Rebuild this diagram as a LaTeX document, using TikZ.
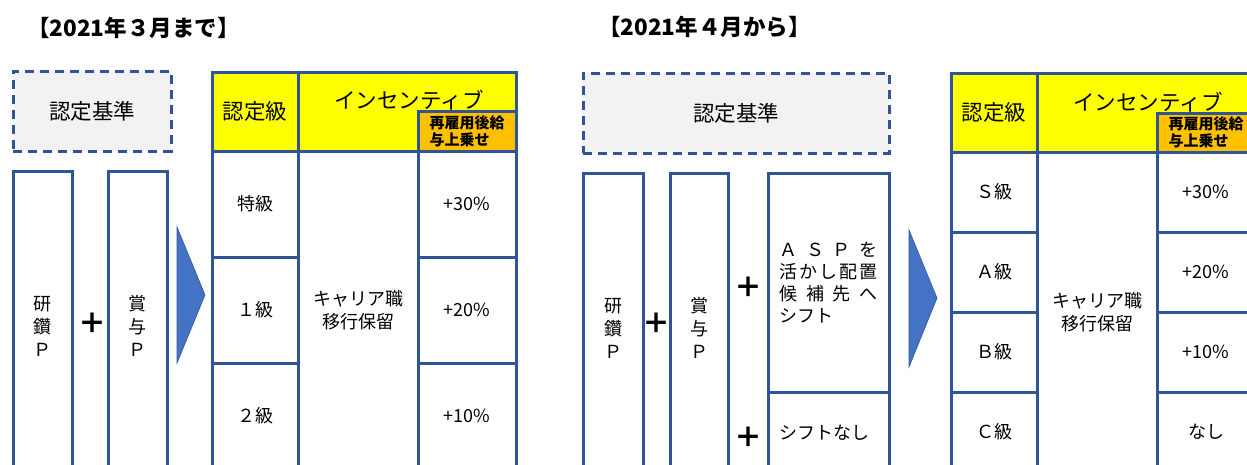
\documentclass[tikz,border=0pt]{standalone}
\usepackage{fontspec}
\setmainfont{Noto Sans CJK JP}
\definecolor{bord}{HTML}{2F5597}
\definecolor{arrowfill}{HTML}{4472C4}
\definecolor{hdryellow}{HTML}{FFFF00}
\definecolor{hdrorange}{HTML}{FFC000}
\definecolor{dashfill}{HTML}{F2F2F2}
\newcommand\fsz[2]{\fontsize{#1}{#2}\selectfont}
\tikzset{
 cell/.style={draw=bord, line width=3pt, inner sep=0pt, outer sep=0pt, anchor=north west, font=\fsz{18}{23}, align=center},
 hdr/.style={cell, fill=hdryellow, font=\fsz{21.5}{24}},
 subhdr/.style={cell, fill=hdrorange, font=\fsz{15}{17}\bfseries, align=left},
 dashbox/.style={cell, fill=dashfill, dash pattern=on 9pt off 6pt, font=\fsz{21.5}{24}},
 plus/.style={font=\fsz{28}{28}\bfseries, inner sep=0pt},
 txt/.style={inner sep=0pt, font=\fsz{21.5}{24}},
 title/.style={font=\fsz{22.5}{24}\bfseries, anchor=west, inner sep=0pt},
 tri/.style={fill=arrowfill, draw=bord, line width=0.6pt},
}
\begin{document}
\begin{tikzpicture}[x=1pt,y=-1pt]
\useasboundingbox (0,0) rectangle (1247,464);
\begin{scope}
\clip (0,0) rectangle (1247,464);
% ---------- left: until March 2021 ----------
\node[title] (titleL) at (27,28) {【2021年３月まで】};
\node[dashbox, minimum width=158pt, minimum height=80pt] (critL) at (13,71) {認定基準};
\node[cell, minimum width=59pt, minimum height=310pt] (kenL) at (13,171) {研\\鑽\\Ｐ};
\node[plus] (plusL) at (92,323) {＋};
\node[cell, minimum width=59pt, minimum height=310pt] (shoL) at (108,171) {賞\\与\\Ｐ};
\draw[tri] (177,227) -- (205,295) -- (177,363) -- cycle;
% table
\node[hdr, minimum width=86pt, minimum height=79pt] (lvlhL) at (212,72) {認定級};
\node[hdr, minimum width=218pt, minimum height=79pt] (inchL) at (298,72) {};
\node[txt] (inctL) at (409,100) {インセンティブ};
\node[subhdr, minimum width=98pt, minimum height=40pt] (subL) at (418,111) {再雇用後給\\与上乗せ};
\node[cell, minimum width=86pt, minimum height=106pt] (l1L) at (212,151) {特級};
\node[cell, minimum width=86pt, minimum height=106pt] (l2L) at (212,257) {１級};
\node[cell, minimum width=86pt, minimum height=106pt] (l3L) at (212,363) {２級};
\node[cell, minimum width=120pt, minimum height=318pt] (midL) at (298,151) {キャリア職\\移行保留};
\node[cell, minimum width=98pt, minimum height=106pt] (v1L) at (418,151) {+30\%};
\node[cell, minimum width=98pt, minimum height=106pt] (v2L) at (418,257) {+20\%};
\node[cell, minimum width=98pt, minimum height=106pt] (v3L) at (418,363) {+10\%};
% ---------- right: from April 2021 ----------
\node[title] (titleR) at (598,27) {【2021年４月から】};
\node[dashbox, minimum width=306pt, minimum height=80pt] (critR) at (583,73) {認定基準};
\node[cell, minimum width=60pt, minimum height=310pt] (kenR) at (583,173) {研\\鑽\\Ｐ};
\node[plus] (plusR1) at (656,323) {＋};
\node[cell, minimum width=58pt, minimum height=310pt] (shoR) at (670,173) {賞\\与\\Ｐ};
\node[plus] (plusR2) at (748,287) {＋};
\node[cell, minimum width=121pt, minimum height=219pt, font=\fsz{18}{22}] (aspR) at (768,173)
  {\makebox[98pt][s]{Ａ\hfill Ｓ\hfill Ｐ\hfill を}\\
   \makebox[98pt][s]{活\hfill か\hfill し\hfill 配\hfill 置}\\
   \makebox[98pt][s]{候\hfill 補\hfill 先\hfill へ}\\
   \makebox[98pt][l]{シフト}};
\node[plus] (plusR3) at (748,437) {＋};
\node[cell, minimum width=121pt, minimum height=82pt] (noshR) at (768,392) {\makebox[98pt][l]{シフトなし}};
\draw[tri] (909,230) -- (937,298) -- (909,367) -- cycle;
% table
\node[hdr, minimum width=86pt, minimum height=79pt] (lvlhR) at (951,73) {認定級};
\node[hdr, minimum width=218pt, minimum height=79pt] (inchR) at (1037,73) {};
\node[txt] (inctR) at (1148,102) {インセンティブ};
\node[subhdr, minimum width=98pt, minimum height=39pt] (subR) at (1157,113) {再雇用後給\\与上乗せ};
\node[cell, minimum width=86pt, minimum height=80pt] (l1R) at (951,152) {Ｓ級};
\node[cell, minimum width=86pt, minimum height=80pt] (l2R) at (951,232) {Ａ級};
\node[cell, minimum width=86pt, minimum height=80pt] (l3R) at (951,312) {Ｂ級};
\node[cell, minimum width=86pt, minimum height=80pt] (l4R) at (951,392) {Ｃ級};
\node[cell, minimum width=120pt, minimum height=320pt] (midR) at (1037,152) {キャリア職\\移行保留};
\node[cell, minimum width=98pt, minimum height=80pt] (v1R) at (1157,152) {+30\%};
\node[cell, minimum width=98pt, minimum height=80pt] (v2R) at (1157,232) {+20\%};
\node[cell, minimum width=98pt, minimum height=80pt] (v3R) at (1157,312) {+10\%};
\node[cell, minimum width=98pt, minimum height=80pt] (v4R) at (1157,392) {なし};
\end{scope}
\end{tikzpicture}
\end{document}
